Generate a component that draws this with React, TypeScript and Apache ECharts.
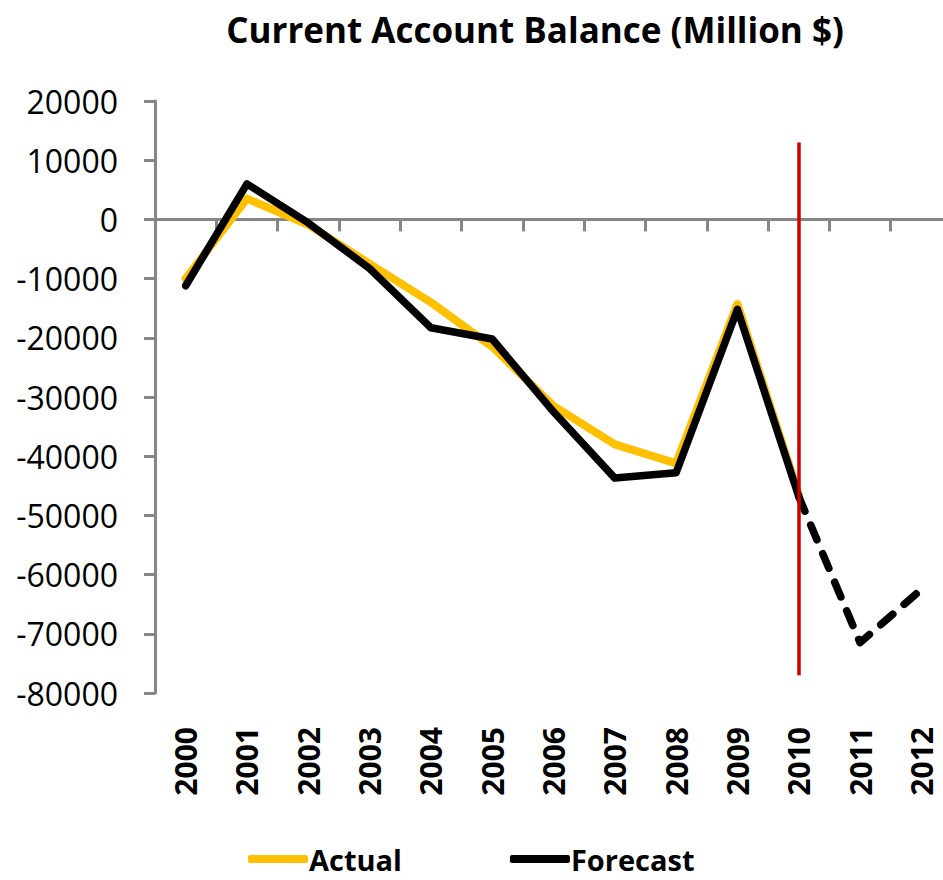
import React, { useEffect, useRef } from "react";
import * as echarts from "echarts";

const years = ["2000", "2001", "2002", "2003", "2004", "2005", "2006", "2007", "2008", "2009", "2010", "2011", "2012"];
const actualValues = [-10000, 3500, -900, -7500, -14000, -21500, -31500, -38000, -41200, -14300, -46500];
const forecastValues = [-11200, 6000, -600, -8300, -18300, -20200, -32500, -43700, -42800, -15200, -46800, -71500, -62500];
const lastActualIndex = 10;
const redLineYear = "2010";
const redLineRange = [13000, -77000];
const yTicks = { min: -80000, max: 20000, interval: 10000 };

const FONT = "'Open Sans', 'Noto Sans', sans-serif";

export default function App() {
  const ref = useRef<HTMLDivElement>(null);
  useEffect(() => {
    if (!ref.current) return;
    const chart = echarts.init(ref.current, undefined, { renderer: "svg" });
    const forecastSolid = forecastValues.map((v, i) => (i <= lastActualIndex ? v : null));
    const forecastDashed = forecastValues.map((v, i) => (i >= lastActualIndex ? v : null));
    chart.setOption({
      animation: false,
      backgroundColor: "#ffffff",
      title: {
        text: "Current Account Balance (Million $)",
        left: 530,
        top: 7,
        textAlign: "center",
        textStyle: { fontFamily: FONT, fontSize: 35, fontWeight: "bold", color: "#000" },
      },
      legend: {
        left: 248,
        top: 843,
        padding: 0,
        icon: "roundRect",
        itemWidth: 60,
        itemHeight: 8,
        itemGap: 108,
        data: ["Actual", "Forecast"],
        textStyle: {
          fontFamily: FONT,
          fontSize: 29,
          lineHeight: 32,
          fontWeight: "bold",
          color: "#000",
          padding: [0, 0, 0, -4],
        },
      },
      grid: { left: 155, top: 101, width: 797, height: 592, containLabel: false, outerBoundsMode: "none" },
      xAxis: {
        type: "category",
        data: years,
        boundaryGap: true,
        axisLine: { onZero: true, lineStyle: { color: "#868686", width: 3 } },
        axisTick: { show: true, length: 12, lineStyle: { color: "#868686", width: 3 } },
        axisLabel: {
          rotate: 90,
          margin: 34,
          interval: 0,
          hideOverlap: false,
          fontFamily: FONT,
          fontSize: 30,
          fontWeight: "bold",
          color: "#000",
        },
        splitLine: { show: false },
      },
      yAxis: {
        type: "value",
        min: yTicks.min,
        max: yTicks.max,
        interval: yTicks.interval,
        axisLine: { show: true, onZero: false, lineStyle: { color: "#868686", width: 3 } },
        axisTick: { show: true, length: 11, lineStyle: { color: "#868686", width: 3 } },
        axisLabel: { margin: 37, fontFamily: FONT, fontSize: 32, color: "#000", formatter: (v: number) => String(v) },
        splitLine: { show: false },
      },
      series: [
        {
          name: "Actual",
          type: "line",
          data: actualValues,
          symbol: "none",
          color: "#FFC000",
          lineStyle: { color: "#FFC000", width: 8, join: "round", cap: "round" },
          z: 2,
        },
        {
          name: "Forecast",
          type: "line",
          data: forecastSolid,
          symbol: "none",
          color: "#000000",
          lineStyle: { color: "#000000", width: 7.5, join: "round", cap: "round" },
          z: 3,
        },
        {
          name: "ForecastDashed",
          type: "line",
          data: forecastDashed,
          symbol: "none",
          color: "#000000",
          lineStyle: { color: "#000000", width: 7.5, type: [16, 15], cap: "round", join: "round" },
          z: 4,
          markLine: {
            silent: true,
            symbol: "none",
            label: { show: false },
            lineStyle: { color: "#CC0000", width: 3.5, type: "solid" },
            data: [[{ coord: [redLineYear, redLineRange[0]] }, { coord: [redLineYear, redLineRange[1]] }]],
          },
        },
      ],
    });
    return () => chart.dispose();
  }, []);
  return <div ref={ref} style={{ position: "fixed", left: 0, top: 0, width: 943, height: 880 }} />;
}
